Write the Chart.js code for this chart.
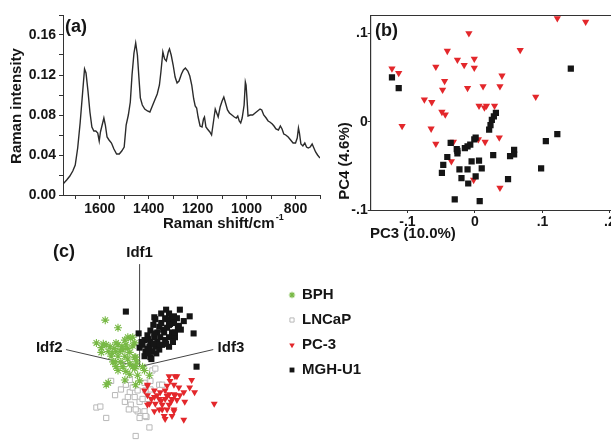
<!DOCTYPE html>
<html>
<head>
<meta charset="utf-8">
<script src="https://cdn.jsdelivr.net/npm/chart.js@4.4.1/dist/chart.umd.min.js"></script>
<style>
    html, body { margin: 0; padding: 0; background: #fff; }
    body { width: 611px; height: 443px; position: relative; overflow: hidden; }
    canvas { position: absolute; }
    #chartA { left: 0; top: 0; width: 330px; height: 240px; }
    #chartB { left: 330px; top: 0; width: 290px; height: 245px; }
    #chartC { left: 0; top: 240px; width: 380px; height: 203px; }
</style>
</head>
<body>
<canvas id="chartA" width="330" height="240"></canvas>
<canvas id="chartB" width="290" height="245"></canvas>
<canvas id="chartC" width="380" height="203"></canvas>
<script>
// ==================== DATA ====================

// (a) mean Raman spectrum
const ramanShift = [1750, 1735, 1722, 1710, 1700, 1690, 1680, 1670, 1662, 1656, 1648, 1640, 1632, 1624, 1616, 1608, 1602, 1597, 1590, 1583,
    1577, 1570, 1562, 1552, 1542, 1531, 1520, 1510, 1500, 1492, 1483, 1475, 1468, 1460, 1453, 1446, 1440, 1434, 1426, 1416,
    1405, 1395, 1385, 1375, 1365, 1356, 1350, 1342, 1335, 1328, 1320, 1315, 1308, 1300, 1292, 1284, 1276, 1266, 1258, 1250,
    1240, 1232, 1224, 1216, 1210, 1204, 1198, 1190, 1182, 1176, 1172, 1166, 1160, 1150, 1143, 1136, 1128, 1122, 1116, 1108,
    1100, 1093, 1086, 1078, 1070, 1060, 1050, 1042, 1036, 1030, 1024, 1018, 1010, 1005, 1002, 998, 994, 985, 975, 965,
    955, 945, 938, 930, 920, 912, 905, 895, 888, 880, 870, 862, 855, 848, 840, 830, 820, 810, 800, 793,
    788, 784, 778, 770, 762, 755, 748, 740, 732, 725, 718, 710, 700];
const ramanIntensity = [0.011, 0.015, 0.019, 0.024, 0.030, 0.047, 0.072, 0.102, 0.126, 0.122, 0.104, 0.083, 0.068, 0.064, 0.064, 0.062, 0.054, 0.063, 0.070, 0.077,
    0.070, 0.058, 0.055, 0.052, 0.046, 0.041, 0.041, 0.044, 0.048, 0.070, 0.080, 0.093, 0.120, 0.142, 0.152, 0.140, 0.118, 0.097, 0.090, 0.086,
    0.084, 0.083, 0.089, 0.095, 0.101, 0.110, 0.123, 0.143, 0.136, 0.134, 0.143, 0.146, 0.140, 0.130, 0.118, 0.112, 0.114, 0.121, 0.125, 0.127,
    0.124, 0.119, 0.110, 0.096, 0.089, 0.087, 0.078, 0.069, 0.068, 0.076, 0.078, 0.068, 0.066, 0.063, 0.060, 0.072, 0.086, 0.082, 0.078, 0.088,
    0.094, 0.098, 0.092, 0.085, 0.082, 0.080, 0.078, 0.077, 0.079, 0.074, 0.072, 0.077, 0.090, 0.113, 0.110, 0.095, 0.079, 0.080, 0.080, 0.082,
    0.084, 0.086, 0.085, 0.080, 0.077, 0.074, 0.073, 0.071, 0.069, 0.066, 0.065, 0.069, 0.066, 0.061, 0.060, 0.058, 0.055, 0.052, 0.052, 0.057,
    0.067, 0.062, 0.051, 0.049, 0.052, 0.048, 0.047, 0.048, 0.051, 0.047, 0.043, 0.040, 0.037];

// (b) PCA scores [PC3, PC4]
const pcaPC3 = [[-0.123, 0.060], [-0.113, 0.055], [-0.108, -0.005], [-0.075, 0.025], [-0.064, 0.022], [-0.065, -0.008], [-0.058, 0.062],
    [-0.058, -0.025], [-0.048, 0.036], [-0.049, 0.011], [-0.044, 0.008], [-0.045, 0.046], [-0.041, 0.080], [-0.026, 0.070], [-0.016, 0.064],
    [-0.011, 0.038], [-0.009, 0.100], [-0.001, 0.071], [-0.001, 0.061], [0.012, 0.040], [0.006, 0.018], [0.014, 0.016], [0.017, 0.018],
    [0.029, 0.018], [0.037, 0.040], [0.040, 0.052], [0.067, 0.081], [0.090, 0.028], [0.122, 0.117], [0.164, 0.113], [-0.032, -0.023],
    [-0.035, -0.045], [0.005, -0.020], [0.015, -0.023], [0.036, -0.018], [-0.002, -0.066], [0.037, -0.075]];
const pcaMGH = [[-0.123, 0.050], [-0.113, 0.038], [-0.036, -0.024], [-0.027, -0.031], [-0.026, -0.036], [-0.041, -0.040], [-0.047, -0.049],
    [-0.049, -0.058], [-0.023, -0.054], [-0.020, -0.064], [-0.015, -0.030], [-0.011, -0.028], [-0.011, -0.054], [-0.010, -0.070],
    [-0.005, -0.045], [-0.001, -0.020], [0.001, -0.062], [0.006, -0.044], [0.010, -0.053], [0.021, -0.009], [0.023, -0.004], [0.025, 0.002],
    [0.028, 0.006], [0.031, 0.010], [0.027, -0.038], [-0.030, -0.088], [0.007, -0.090], [0.049, -0.065], [0.052, -0.039], [0.058, -0.032],
    [0.058, -0.037], [0.105, -0.022], [0.122, -0.014], [0.098, -0.053], [0.142, 0.060], [0.001, -0.018], [-0.007, -0.026], [-0.026, -0.033]];
const pcaXTicks = [-0.1, 0, 0.1, 0.2];
const pcaYTicks = [-0.1, 0, 0.1];

// (c) LDA scores projected on the Idf1/Idf2/Idf3 view
const ldaBPH = [[-3.5, 4.9], [-2.2, 4.1], [-1.2, 3.1], [-0.9, 3.0], [-1.5, 2.8], [-4.4, 2.5], [-3.7, 2.4], [-3.0, 2.1], [-2.2, 2.3], [-1.4, 2.3],
    [-0.7, 2.2], [-3.9, 2.0], [-3.2, 1.6], [-2.4, 1.6], [-1.7, 1.8], [-1.0, 1.5], [-2.9, 1.1], [-2.2, 1.1], [-1.5, 1.1], [-0.5, 1.0],
    [-2.7, 0.5], [-1.9, 0.5], [-1.0, 0.3], [-2.2, -0.4], [-1.4, -0.5], [-0.5, -0.2], [-0.2, -0.9], [-1.5, -1.4], [0.0, -1.5], [-3.2, -1.7],
    [-0.4, -1.9], [0.3, 0.0], [-2.4, 2.5], [-0.7, 3.1], [-2.0, 1.6], [-3.9, 1.5], [-0.4, 1.0], [-2.5, 0.5], [-0.4, 0.0], [-2.4, 0.0],
    [0.5, -0.4], [1.0, -0.9], [-3.4, -1.9], [-0.7, 0.0], [-3.4, 2.3], [-2.6, 1.9], [-1.8, 2.1], [-1.2, 1.9], [-0.5, 2.5], [-2.8, 1.4],
    [-1.2, 0.8], [-0.3, 0.5], [-1.7, 0.0], [-1.0, -0.8]];
const ldaLNCaP = [[-2.9, -1.5], [-2.5, -3.0], [-1.9, -2.4], [-1.4, -1.9], [-1.0, -2.7], [-1.5, -3.7], [-0.7, -2.2], [-0.5, -3.2], [-0.2, -2.5],
    [-0.9, -4.0], [0.0, -3.7], [-0.2, -4.7], [0.5, -4.7], [0.1, -5.2], [1.0, -6.4], [-4.4, -4.3], [-4.0, -4.2], [-3.4, -5.4], [-0.4, -7.3],
    [1.3, -0.4], [0.5, -1.7], [0.8, -3.4], [-1.0, -1.4], [1.1, -2.4], [-1.1, -4.5], [0.7, -5.3], [0.3, -3.4], [0.6, -2.5], [1.1, -1.5],
    [-1.2, -3.2], [-0.4, -4.5], [0.0, -5.4], [1.6, -0.2], [2.0, -1.9], [2.3, -1.9], [0.6, -5.2]];
const ldaPC3 = [[3.0, -1.0], [3.6, -1.0], [3.1, -1.5], [3.5, -1.9], [5.3, -1.4], [5.1, -2.2], [5.6, -2.7], [4.5, -2.7], [2.1, -2.7], [2.6, -2.5],
    [3.0, -2.9], [3.5, -2.9], [0.8, -2.0], [0.5, -2.5], [1.5, -3.2], [2.0, -3.4], [2.6, -3.4], [3.3, -3.4], [3.8, -3.5], [4.6, -3.7],
    [1.0, -3.9], [1.6, -3.9], [2.3, -4.0], [3.0, -4.0], [2.0, -4.5], [2.8, -4.5], [3.5, -4.5], [2.5, -5.2], [3.3, -5.2], [4.5, -5.6],
    [7.6, -3.9], [1.5, -2.5], [4.0, -2.2], [3.8, -1.0], [3.6, -3.0], [0.8, -3.0], [1.8, -3.0], [1.5, -4.7], [2.3, -4.5], [3.5, -4.7],
    [2.6, -5.5], [0.8, -1.9], [0.8, -4.0], [2.8, -3.1], [3.2, -3.7], [2.2, -3.6], [4.1, -3.0], [2.8, -2.0], [1.2, -3.4]];
const ldaMGH = [[-1.4, 5.8], [2.7, 6.0], [4.1, 6.0], [5.1, 5.3], [1.6, 5.0], [2.6, 5.1], [3.3, 5.1], [3.8, 5.1], [3.1, 4.5], [4.0, 4.3],
    [2.0, 4.2], [2.8, 4.1], [1.1, 3.8], [1.8, 3.6], [2.5, 3.6], [3.3, 3.6], [3.9, 4.0], [5.5, 3.5], [0.8, 3.3], [1.5, 3.1],
    [2.1, 3.1], [3.0, 3.1], [3.6, 3.1], [-0.1, 3.5], [0.5, 2.8], [1.1, 2.6], [1.8, 2.6], [2.6, 2.8], [0.3, 2.3], [1.0, 2.1],
    [1.6, 2.1], [2.3, 2.3], [0.6, 1.6], [1.3, 1.6], [2.0, 1.8], [1.1, 1.0], [0.5, 1.1], [5.8, 0.0], [0.0, 2.0], [3.0, 2.1],
    [3.6, 3.6], [4.5, 4.8], [3.5, 5.3], [2.8, 5.0], [1.5, 5.2], [1.2, 0.8], [2.2, 4.6], [3.5, 4.6], [1.4, 4.4], [2.4, 3.9],
    [3.0, 4.4], [0.9, 2.9], [1.4, 2.4], [2.0, 2.3], [2.7, 2.4], [0.8, 1.9], [1.7, 1.4], [3.4, 2.6], [4.2, 3.9], [2.2, 5.6],
    [3.0, 5.6], [0.2, 2.6], [0.9, 1.4], [1.5, 3.5]];
const idfNames = ['Idf1', 'Idf2', 'Idf3'];
const idfEnds = [[0, 10.8], [-7.5, 1.8], [7.5, 1.8]];
const idfLabelAt = [[0, 12.0], [-9.2, 2.0], [9.3, 2.0]];
const classNames = ['BPH', 'LNCaP', 'PC-3', 'MGH-U1'];

// ==================== STYLE ====================

const FONT = 'Arial, "Liberation Sans", Helvetica, sans-serif';
const RED = '#e3272b';
const GREEN = '#78b945';
const GREY = '#b8b8b8';
const INK = '#151515';

Chart.defaults.font.family = FONT;
Chart.defaults.color = INK;
Chart.defaults.animation = false;

const toXY = pts => pts.map(p => ({ x: p[0], y: p[1] }));

// free text drawn on top of a chart (panel letters, axis titles)
function textLayer(id, items) {
    return {
        id: id,
        afterDraw(chart) {
            const ctx = chart.ctx;
            items.forEach(t => {
                ctx.save();
                ctx.font = t.font;
                ctx.fillStyle = INK;
                ctx.textAlign = t.align || 'center';
                ctx.textBaseline = 'middle';
                ctx.translate(t.x, t.y);
                if (t.rotate) ctx.rotate(t.rotate);
                ctx.fillText(t.text, 0, 0);
                if (t.sup) {
                    const w = ctx.measureText(t.text).width;
                    ctx.font = 'bold 9px ' + FONT;
                    ctx.textAlign = 'left';
                    ctx.fillText(t.sup, w + 1, -6);
                }
                ctx.restore();
            });
        }
    };
}

const axisGrid = { drawOnChartArea: false, color: '#333', tickLength: 4, tickWidth: 1 };
const axisBorder = { color: '#333', width: 1 };
const tickFont = { size: 14, weight: 'bold' };

// ==================== (a) SPECTRE ====================

new Chart(document.getElementById('chartA'), {
    type: 'line',
    data: {
        datasets: [{
            data: ramanShift.map((w, i) => ({ x: w, y: ramanIntensity[i] })),
            borderColor: '#2b2b2b',
            borderWidth: 1.4,
            pointRadius: 0,
            tension: 0,
            fill: false
        }]
    },
    options: {
        responsive: false,
        layout: { padding: { top: 15, right: 10, left: 0, bottom: 0 } },
        plugins: { legend: { display: false }, tooltip: { enabled: false } },
        scales: {
            x: {
                type: 'linear', reverse: true, min: 700, max: 1750,
                afterFit(s) { s.height = 45; },
                grid: axisGrid, border: axisBorder,
                ticks: {
                    stepSize: 100, autoSkip: false, includeBounds: false, maxRotation: 0, padding: 2,
                    font: tickFont,
                    callback: v => (v % 200 === 0 ? String(v) : '')
                }
            },
            y: {
                min: 0, max: 0.18,
                afterFit(s) { s.width = 63; },
                grid: axisGrid, border: axisBorder,
                ticks: {
                    stepSize: 0.02, autoSkip: false, includeBounds: false, padding: 3,
                    font: tickFont,
                    callback: v => (Math.round(v * 100) % 4 === 0 ? v.toFixed(2) : '')
                }
            }
        }
    },
    plugins: [textLayer('labelsA', [
        { text: '(a)', x: 65, y: 27, font: 'bold 18px ' + FONT, align: 'left' },
        { text: 'Raman intensity', x: 17, y: 106, font: 'bold 15px ' + FONT, rotate: -Math.PI / 2 },
        { text: 'Raman shift/cm', x: 163, y: 224, font: 'bold 15px ' + FONT, align: 'left', sup: '-1' }
    ])]
});

// ==================== (b) PCA ====================

const fmtShort = v => {
    const r = Math.round(v * 10) / 10;
    if (r === 0) return '0';
    return (r < 0 ? '-' : '') + String(Math.abs(r)).replace(/^0/, '');
};

const frameB = {
    id: 'frameB',
    beforeDatasetsDraw(chart) {
        const a = chart.chartArea;
        const ctx = chart.ctx;
        ctx.save();
        ctx.strokeStyle = '#333';
        ctx.lineWidth = 1;
        ctx.strokeRect(a.left, a.top + 0.5, a.right - a.left, a.bottom - a.top);
        ctx.restore();
    }
};

new Chart(document.getElementById('chartB'), {
    type: 'scatter',
    data: {
        datasets: [
            {
                label: 'MGH-U1', data: toXY(pcaMGH),
                pointStyle: 'rect', pointRadius: 4.4, backgroundColor: INK, borderColor: INK, borderWidth: 0
            },
            {
                label: 'PC-3', data: toXY(pcaPC3),
                pointStyle: 'triangle', rotation: 180, pointRadius: 4.2, backgroundColor: RED, borderColor: RED, borderWidth: 0
            }
        ]
    },
    options: {
        responsive: false,
        layout: { padding: { top: 15, right: 7, left: 0, bottom: 0 } },
        plugins: { legend: { display: false }, tooltip: { enabled: false } },
        scales: {
            x: {
                type: 'linear', min: -0.1545, max: 0.2045,
                afterFit(s) { s.height = 35; },
                grid: { ...axisGrid, tickLength: 3 }, border: axisBorder,
                afterBuildTicks(s) { s.ticks = pcaXTicks.map(v => ({ value: v })); },
                ticks: { padding: 1, maxRotation: 0, font: tickFont, callback: fmtShort }
            },
            y: {
                min: -0.1, max: 0.1207,
                afterFit(s) { s.width = 40.7; },
                grid: { ...axisGrid, tickLength: 3 }, border: axisBorder,
                afterBuildTicks(s) { s.ticks = pcaYTicks.map(v => ({ value: v })); },
                ticks: { padding: 0, font: tickFont, callback: fmtShort }
            }
        }
    },
    plugins: [frameB, textLayer('labelsB', [
        { text: '(b)', x: 45, y: 31, font: 'bold 18px ' + FONT, align: 'left' },
        { text: 'PC4 (4.6%)', x: 15, y: 161, font: 'bold 15px ' + FONT, rotate: -Math.PI / 2 },
        { text: 'PC3 (10.0%)', x: 40, y: 234, font: 'bold 15px ' + FONT, align: 'left' }
    ])]
});

// ==================== (c) LDA ====================

const markerC = {
    'BPH': { pointStyle: 'star', radius: 4, borderWidth: 1.1, fill: GREEN, line: GREEN },
    'LNCaP': { pointStyle: 'rect', radius: 3.7, borderWidth: 1, fill: '#fff', line: GREY },
    'PC-3': { pointStyle: 'triangle', rotation: 180, radius: 4, borderWidth: 0, fill: RED, line: RED },
    'MGH-U1': { pointStyle: 'rect', radius: 4.3, borderWidth: 0, fill: INK, line: INK }
};

function ldaDataset(name, pts) {
    const m = markerC[name];
    return {
        label: name, data: toXY(pts), clip: false,
        pointStyle: m.pointStyle, rotation: m.rotation || 0, pointRadius: m.radius,
        backgroundColor: m.fill, borderColor: m.line, borderWidth: m.borderWidth
    };
}

const idfLines = idfEnds.map((e, i) => ({
    label: idfNames[i], data: [{ x: 0, y: 0 }, { x: e[0], y: e[1] }],
    showLine: true, pointRadius: 0, borderColor: '#444', borderWidth: 1, clip: false
}));

const decorC = {
    id: 'decorC',
    afterDraw(chart) {
        const ctx = chart.ctx;
        const xs = chart.scales.x, ys = chart.scales.y;
        ctx.save();
        ctx.fillStyle = INK;
        ctx.textBaseline = 'middle';
        ctx.textAlign = 'center';
        ctx.font = 'bold 15px ' + FONT;
        idfNames.forEach((n, i) => {
            ctx.fillText(n, xs.getPixelForValue(idfLabelAt[i][0]), ys.getPixelForValue(idfLabelAt[i][1]));
        });
        ctx.font = 'bold 18px ' + FONT;
        ctx.textAlign = 'left';
        ctx.fillText('(c)', 53, 12);
        // legend
        ctx.font = 'bold 15px ' + FONT;
        classNames.forEach((n, i) => {
            const m = markerC[n];
            const y = 55 + i * 25;
            ctx.fillStyle = m.fill;
            ctx.strokeStyle = m.line;
            ctx.lineWidth = m.borderWidth;
            Chart.helpers.drawPoint(ctx, {
                pointStyle: m.pointStyle, radius: m.radius * 0.8,
                rotation: m.rotation || 0, borderWidth: m.borderWidth
            }, 292, y);
            ctx.fillStyle = INK;
            ctx.fillText(n, 302, y);
        });
        ctx.restore();
    }
};

new Chart(document.getElementById('chartC'), {
    type: 'scatter',
    data: {
        datasets: [
            ldaDataset('MGH-U1', ldaMGH),
            ldaDataset('PC-3', ldaPC3),
            ldaDataset('BPH', ldaBPH),
            ldaDataset('LNCaP', ldaLNCaP),
            ...idfLines
        ]
    },
    options: {
        responsive: false,
        layout: { padding: { top: 0, right: 100, left: 0, bottom: 0 } },
        plugins: { legend: { display: false }, tooltip: { enabled: false } },
        scales: {
            x: { type: 'linear', min: -13.7, max: 14.3, display: false },
            y: { min: -7.5, max: 12.8, display: false }
        }
    },
    plugins: [decorC]
});
</script>
</body>
</html>
